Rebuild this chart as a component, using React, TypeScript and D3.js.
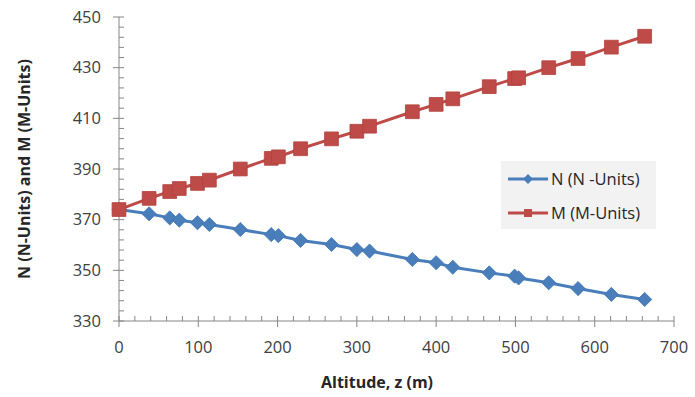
import React from 'react';
import * as d3 from 'd3';

// altitude (m) and the two refractivity series
const altitudes = [0, 38, 64, 76, 99, 114, 153, 192, 201, 229, 268, 300, 316, 370, 400, 421, 467, 499, 504, 542, 579, 621, 663];
const nUnits = [374, 372.3, 370.7, 369.8, 368.8, 368.1, 366.1, 364.1, 363.7, 361.8, 360.2, 358.2, 357.6, 354.3, 353, 351.2, 349, 347.7, 347, 345.1, 342.8, 340.5, 338.5];
const mUnits = [374, 378.4, 381.1, 382.3, 384.3, 385.6, 390, 394.2, 394.8, 398, 401.9, 404.9, 406.9, 412.6, 415.5, 417.7, 422.5, 425.7, 426, 430, 433.6, 438.1, 442.4];

const xTicks = [0, 100, 200, 300, 400, 500, 600, 700];
const yTicks = [330, 350, 370, 390, 410, 430, 450];

const seriesNames = ['N (N -Units)', 'M (M-Units)'];
const seriesColors = ['#4A7EBB', '#BE4B48'];

const W = 695;
const H = 397;
const FONT = "'Open Sans', 'Liberation Sans', sans-serif";
const AXIS = '#868686';

const App: React.FC = () => {
    const x = d3.scaleLinear().domain([0, 700]).range([119, 674]);
    const y = d3.scaleLinear().domain([330, 450]).range([321, 17]);

    const xMinor = d3.range(0, 701, 20).filter(v => v % 100 !== 0);
    const yMinor = d3.range(330, 451, 4).filter(v => (v - 330) % 20 !== 0);

    const line = d3.line<[number, number]>()
        .x(d => x(d[0]))
        .y(d => y(d[1]));

    const square = d3.symbol(d3.symbolSquare, 190)();
    const diamond = d3.symbol(d3.symbolSquare, 100)();

    const series = [nUnits, mUnits].map(vals => altitudes.map((a, i) => [a, vals[i]] as [number, number]));

    const marker = (k: number, cx: number, cy: number, key: string | number) =>
        k === 0 ? (
            <path key={key} d={diamond as string} transform={`translate(${cx},${cy}) rotate(45)`}
                fill={seriesColors[0]} stroke="#4276B5" strokeWidth={0.8} />
        ) : (
            <path key={key} d={square as string} transform={`translate(${cx},${cy})`}
                fill={seriesColors[1]} stroke="#B3413E" strokeWidth={0.8} />
        );

    return (
        <svg width={W} height={H} style={{ position: 'absolute', left: 0, top: 0, background: '#fff' }}
            fontFamily={FONT}>
            {/* axes */}
            <line x1={x(0)} x2={x(0)} y1={y(450)} y2={y(330)} stroke={AXIS} strokeWidth={1} />
            <line x1={x(0)} x2={x(700)} y1={y(330)} y2={y(330)} stroke={AXIS} strokeWidth={1} />
            {yTicks.map(t => (
                <g key={`yt${t}`}>
                    <line x1={x(0) - 6} x2={x(0) + 5} y1={y(t)} y2={y(t)} stroke={AXIS} />
                    <text x={101} y={y(t)} dy="0.35em" textAnchor="end" fontSize={16.5} fill="#404040">{t}</text>
                </g>
            ))}
            {yMinor.map(t => (
                <line key={`ym${t}`} x1={x(0)} x2={x(0) + 5} y1={y(t)} y2={y(t)} stroke={AXIS} />
            ))}
            {xTicks.map(t => (
                <g key={`xt${t}`}>
                    <line x1={x(t)} x2={x(t)} y1={y(330) - 5} y2={y(330) + 6} stroke={AXIS} />
                    <text x={x(t)} y={353} textAnchor="middle" fontSize={16.5} fill="#404040">{t}</text>
                </g>
            ))}
            {xMinor.map(t => (
                <line key={`xm${t}`} x1={x(t)} x2={x(t)} y1={y(330) - 5} y2={y(330)} stroke={AXIS} />
            ))}

            {/* axis titles */}
            <text x={377} y={388} textAnchor="middle" fontSize={16} fontWeight="bold" fill="#262626">Altitude, z (m)</text>
            <text transform={`translate(30,${(y(330) + y(450)) / 2}) rotate(-90)`} textAnchor="middle"
                fontSize={16} fontWeight="bold" fill="#262626">N (N-Units) and M (M-Units)</text>

            {/* series */}
            {series.map((pts, k) => (
                <g key={`s${k}`}>
                    <path d={line(pts) as string} fill="none" stroke={seriesColors[k]} strokeWidth={3} strokeLinejoin="round" />
                    {pts.map((p, i) => marker(k, x(p[0]), y(p[1]), i))}
                </g>
            ))}

            {/* legend */}
            <rect x={501} y={161} width={155} height={68} fill="#F2F2F2" />
            {seriesNames.map((name, k) => {
                const ly = k === 0 ? 179 : 213;
                return (
                    <g key={`lg${k}`}>
                        <line x1={508} x2={548} y1={ly} y2={ly} stroke={seriesColors[k]} strokeWidth={3} />
                        {k === 0 ? (
                            <path d={d3.symbol(d3.symbolSquare, 50)() as string} transform={`translate(528,${ly}) rotate(45)`} fill={seriesColors[0]} />
                        ) : (
                            <path d={d3.symbol(d3.symbolSquare, 64)() as string} transform={`translate(528,${ly})`} fill={seriesColors[1]} />
                        )}
                        <text x={551} y={ly} dy="0.35em" fontSize={16.5} fill="#262626">{name}</text>
                    </g>
                );
            })}
        </svg>
    );
};

export default App;
